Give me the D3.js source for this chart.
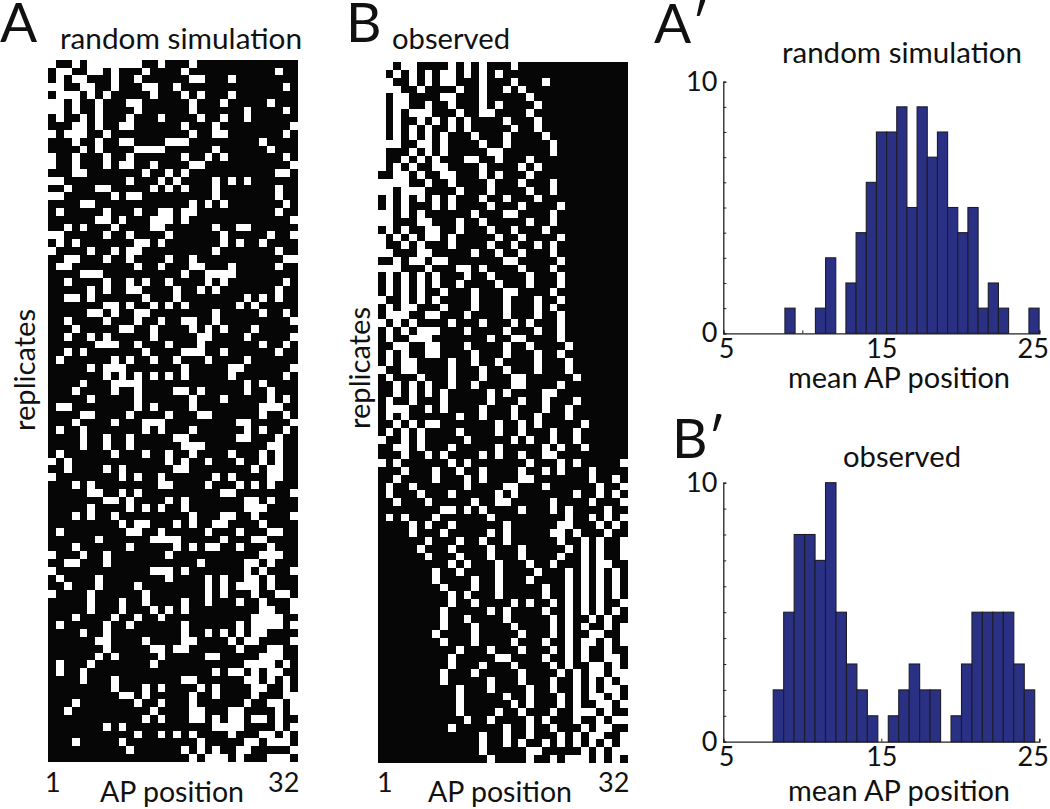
<!DOCTYPE html>
<html><head><meta charset="utf-8">
<script src="https://cdn.jsdelivr.net/npm/d3@7/dist/d3.min.js"></script>
<style>html,body{margin:0;padding:0;background:#fff}text{font-family:Lato,"Open Sans",sans-serif;fill:#111}</style>
</head><body><svg id="c" width="1050" height="809"></svg>
<script>
// White cells (0-based AP column index) of each replicate row.
const simWhite = [
[0,3,5,6,7,8,9,10,11,14,18],[1,2,5,6,8,12,17,29],[1,3,4,8,11,18,19,23],[0,1,4,5,8,12,13,16,30],[1,2,3,5,7,13,17,19,23],
[0,1,3,6,10,11,18,22,28],[0,1,3,6,11,18,25,30],[1,4,6,10,14,19,22,25],[3,4,6,9,10,17,21,31],[0,2,3,4,7,18,21,22,30],
[3,6,9,10,15,16,17,27],[4,6,11,12,13,14,21,28],[0,3,7,10,17,20,22,30],[0,3,7,9,10,13,18,19,31],[3,4,12,15,17,29,30],
[0,1,10,14,16,21,23,25],[2,6,7,13,15,17,21,29],[0,1,8,10,11,21,29],[4,5,18,20,22,30],[1,7,11,14,15,17,18,29],
[6,7,9,13,14,15,17,31],[2,4,8,13,14,21,24,25],[0,1,7,10,15,22,28,31],[1,3,11,12,14,22,24,27],[0,5,8,10,11,21,29],
[2,3,7,10,15,18,30,31],[1,2,11,14,18,19,23,29],[4,5,6,17,20,21,22,23],[2,7,10,12,15,20,22,30],[5,7,10,11,16,19,21,29],
[2,3,5,12,16,25,27,29],[7,8,10,13,15,17,24,26],[5,6,8,11,12,21,27,30],[2,7,11,14,17,18,21,31],[3,9,10,13,18,20,22,26],
[2,5,7,13,19,20,25,31],[6,7,8,11,15,19,27,30],[2,4,12,17,18,19,22,29],[1,8,10,13,16,20,25],[5,7,8,9,17,23,24,31],
[7,9,11,13,15,17,23,30],[4,8,9,10,11,25,27],[3,8,11,16,17,19,25,28],[5,11,18,22,28,30],[1,2,11,13,18,27,28,29],
[4,5,10,15,19,20,27,30],[3,8,12,13,14,24,25,31],[1,4,12,14,18,25,27,30],[4,7,10,16,17,24,25,29],[4,7,10,17,18,19,28,29],
[1,8,12,15,18,23,27,29],[0,2,15,17,20,24,27,29],[2,7,9,16,17,26,28,29],[0,9,11,14,21,23,28,29],[3,5,14,15,20,24,26,28],
[5,6,9,11,22,23,31],[7,8,10,15,17,25,26,28],[5,10,12,14,17,25,26,27],[3,5,8,18,22,23,26,31],[9,11,12,16,18,21,22,27],
[1,10,11,14,20,24,28,29],[6,13,14,15,16,22,26,27],[3,10,16,18,20,21,24,28],[0,4,7,15,27,28,29],[2,3,7,19,25,26,28],
[0,13,14,15,17,25,27,31],[1,6,15,20,22,25,26,28],[2,6,11,20,22,24,25,26,28],[0,5,12,20,22,26,29,30],[5,9,12,17,20,24,27,31],
[5,9,13,15,17,27,28,31],[3,8,11,14,26,27,28,29],[1,7,10,17,24,26,27,28,29,31],[4,7,17,20,22,24,26,27],[6,7,12,17,18,23,25,26,31],
[7,13,14,16,17,24,28,29],[6,8,14,20,21,27,28,29],[1,5,13,25,26,27,28,30],[1,4,21,23,24,26,28,29],[4,8,17,18,25,26,28,30],
[8,12,14,19,21,26,27,30],[9,10,12,18,21,26,30,31],[3,11,14,18,25,28,29,31],[2,13,18,19,23,24,29,31],[12,14,18,19,21,23,24,26,27,29],
[7,9,21,22,23,24,29,31],[11,14,16,18,23,27,28,30],[3,9,19,25,26,28,29,30],[10,17,19,21,24,25,31],[18,20,21,22,24,28,29,30]
];
const obsWhite = [
[0,1,3,4,9,11,13,17],[0,2,4,6,8,9,11,13,15],[0,1,4,6,8,9,13,17,21],[0,1,2,5,10,13,16,18],[0,2,3,8,9,13,19],
[0,2,3,6,9,13,15,20],[0,2,4,5,6,10,13,14,19],[0,2,5,7,9,11,16,20],[0,2,4,6,9,11,17,20],[0,2,4,6,8,12,16,21],
[0,1,2,5,6,8,13,16,22],[0,4,6,8,14,15,22],[0,3,5,7,11,12,15,19],[0,2,4,7,8,13,18,20],[2,3,5,8,9,13,15,19],
[0,1,2,3,6,9,14,18,22],[0,1,3,4,5,10,14,19,22],[1,3,5,7,9,13,16,20],[1,3,7,9,14,18,23],[0,1,3,5,12,16,17,22],
[0,1,5,6,10,13,19,22],[1,3,6,7,10,14,17,21],[0,2,4,6,7,9,15,18,23],[0,3,5,9,14,17,20,22],[0,1,5,6,12,15,18,22],
[2,4,5,7,8,16,17,23],[0,1,2,6,10,11,13,18,22],[1,3,5,7,11,14,19,23],[1,3,5,7,10,15,19,23],[1,3,5,8,12,16,17,22],
[0,3,5,7,12,16,20,23],[1,3,4,8,12,16,20,22],[1,2,3,6,7,11,16,20,23],[0,2,4,9,13,17,19,23],[1,3,5,6,7,11,16,20,23],
[1,4,5,6,14,17,18,23],[2,3,6,7,11,16,19,24],[1,3,6,7,12,16,20,23],[1,3,4,9,12,15,20,24],[0,3,4,9,13,16,20,24],
[1,5,9,13,17,18,25],[2,4,6,9,12,17,18,23],[2,4,6,8,14,16,21,22],[1,4,8,14,18,21,25],[1,2,3,6,8,13,17,21,24],
[1,3,10,13,17,20,24],[2,4,6,7,15,18,20,26],[1,3,5,10,15,18,22,25],[0,3,5,11,17,19,22,25],[2,3,5,9,15,21,23,26],
[3,6,8,13,15,18,21,22],[0,2,9,11,19,23,25,31],[3,7,10,13,18,21,23,27],[2,7,11,13,18,19,27,30],[1,4,11,16,17,21,28,31],
[1,5,9,15,17,25,28,30],[2,6,12,15,16,22,27,31],[8,9,11,13,18,22,24,29],[1,3,7,14,24,27,29,31],[4,6,9,16,23,24,28,30],
[4,8,14,16,22,23,25,29],[6,10,13,16,23,26,28,31],[5,9,14,18,24,26,28,31],[6,10,14,18,23,26,28,31],[9,11,15,19,22,26,28,29],
[7,10,15,20,24,26,28,30],[7,12,15,19,24,26,28,30],[8,12,15,21,24,26,28,30],[9,11,15,21,24,26,28,30],[9,12,17,19,22,24,26,28,31],
[8,14,16,21,24,26,28,30],[8,11,16,22,24,27,29],[8,12,17,22,24,26,29,31],[7,12,18,22,24,27,28,31],[8,12,17,21,24,26,27,29,31],
[10,14,18,22,24,26,29],[9,15,16,21,24,26,29,30],[9,13,17,22,24,27,28,30],[8,12,18,23,25,27,28,30,31],[8,14,18,22,25,27,29,31],
[10,14,19,22,25,27,29,30],[10,16,19,23,25,27,28,30],[10,17,19,23,25,28,29,31],[10,15,18,22,25,26,27,29],[11,14,19,21,25,28,30,31],
[9,16,19,22,26,28,29],[13,16,19,23,25,27,28,31],[13,16,18,21,23,25,27,29,31],[13,19,20,26,28,30,31],[14,19,22,24,25,26,28,30]
];
const simBinCounts = [1,0,0,1,3,0,2,4,6,8,8,9,5,9,7,8,5,4,5,1,2,1,0,0,1];
const obsBinCounts = [2,5,8,8,7,10,5,3,2,1,0,1,2,3,2,2,0,1,3,5,5,5,5,3,2];
const xTickValues = [5,10,15,20,25];
const xTickLabels = [5,15,25];
const yTickValues = [0,1,2,3,4,5,6,7,8,9,10];
const yTickLabels = [0,10];

const svg = d3.select("#c");
const FONT = 'Lato,"Open Sans",sans-serif';
function label(t,x,y,size,opts={}){
  const el = svg.append("text").text(t).attr("font-size",size);
  if(opts.rot) el.attr("transform",`translate(${x},${y}) rotate(-90)`).attr("text-anchor","middle");
  else el.attr("x",x).attr("y",y);
  if(opts.anchor) el.attr("text-anchor",opts.anchor);
  if(opts.len){el.attr("textLength",opts.len).attr("lengthAdjust","spacingAndGlyphs");}
  return el;
}
function raster(data,x0,y0,w,h){
  const x = d3.scaleBand().domain(d3.range(32)).range([x0,x0+w]);
  const y = d3.scaleBand().domain(d3.range(data.length)).range([y0,y0+h]);
  const g = svg.append("g").attr("shape-rendering","crispEdges");
  g.append("rect").attr("x",x0).attr("y",y0).attr("width",w).attr("height",h).attr("fill","#060606");
  data.forEach((cols,r)=>{
    g.selectAll(null).data(cols).join("rect")
      .attr("x",c=>x(c)).attr("y",y(r)).attr("width",x.bandwidth()).attr("height",y.bandwidth()).attr("fill","#fff");
  });
}
function hist(counts,start,binW,x0,x1,y0,y10){
  const x = d3.scaleLinear().domain([5,25]).range([x0,x1]);
  const y = d3.scaleLinear().domain([0,10]).range([y0,y10]);
  const g = svg.append("g");
  const ax = g.append("g").attr("transform",`translate(0,${y0})`)
    .call(d3.axisBottom(x).tickValues(xTickValues).tickSize(-3).tickPadding(5.5)
      .tickFormat(d=>xTickLabels.includes(d)?d:""));
  const ay = g.append("g").attr("transform",`translate(${x0},0)`)
    .call(d3.axisLeft(y).tickValues(yTickValues).tickSize(-3).tickPadding(6)
      .tickFormat(d=>yTickLabels.includes(d)?d:""));
  [ax,ay].forEach(a=>{a.selectAll("path").attr("stroke","#222").attr("stroke-width",1.3);
    a.selectAll("line").attr("stroke","#222").attr("stroke-width",1);
    a.selectAll("text").attr("font-size",27).attr("font-family",FONT).attr("fill","#111");});
  ax.selectAll("text").filter(d=>d===5).attr("text-anchor","start").attr("x",-5);
  ax.selectAll("text").filter(d=>d===25).attr("text-anchor","end").attr("x",9);
  g.selectAll(".b").data(counts.map((c,i)=>({c,i})).filter(d=>d.c>0)).join("rect")
    .attr("x",d=>x(start+d.i*binW)).attr("width",d=>x(start+(d.i+1)*binW)-x(start+d.i*binW))
    .attr("y",d=>y(d.c)).attr("height",d=>y0-y(d.c))
    .attr("fill","#2a3184").attr("stroke","#1c1c28").attr("stroke-width",1.1);
}
raster(simWhite,48.3,59.7,250,702);
raster(obsWhite,377.7,62.3,250,700.4);
hist(simBinCounts,8.9,0.6435,723.3,1039.3,333.3,81.7);
hist(obsBinCounts,8.16,0.662,723.3,1039.3,741.7,482.7);

label("A",0,42,55);
label("B",346,42,55);
label("A′",654,43,55);
label("B′",672,458,55);
label("random simulation",60,49,28,{len:242});
label("observed",392,49,28,{len:118});
label("random simulation",782,63,28,{len:240});
label("observed",843,467,28,{len:118});
label("replicates",35,370,28,{rot:true,len:122});
label("replicates",370,368,28,{rot:true,len:122});
label("1",45,792,27);
label("AP position",100,802,28,{len:144});
label("32",268,792,27);
label("1",377,792,27);
label("AP position",428,802,28,{len:144});
label("32",598,792,27);
label("mean AP position",788,388,28,{len:222});
label("mean AP position",788,801,28,{len:222});
</script></body></html>
